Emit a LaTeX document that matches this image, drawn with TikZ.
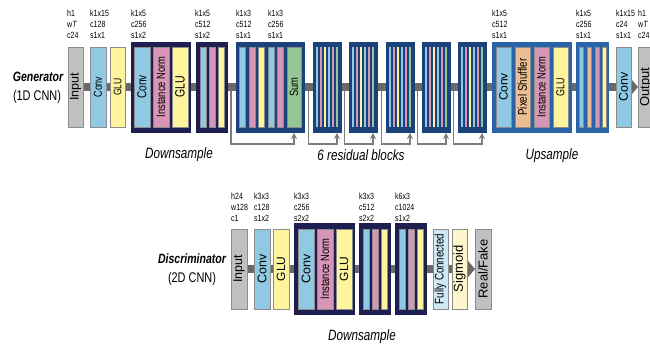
\documentclass[tikz,border=0pt]{standalone}
\usepackage{fontspec}
\setmainfont{Liberation Sans}[FakeStretch=0.78]
\usetikzlibrary{arrows.meta,backgrounds}
\definecolor{grayb}{RGB}{192,192,192}
\definecolor{conv}{RGB}{143,201,228}
\definecolor{glu}{RGB}{255,244,158}
\definecolor{inorm}{RGB}{216,150,182}
\definecolor{pix}{RGB}{236,190,146}
\definecolor{sumg}{RGB}{150,198,150}
\definecolor{fc}{RGB}{208,232,246}
\definecolor{sig}{RGB}{255,247,204}
\definecolor{navy}{RGB}{30,30,80}
\definecolor{resb}{RGB}{28,66,124}
\definecolor{upb}{RGB}{42,100,168}
\definecolor{barc}{RGB}{105,105,105}
\definecolor{skipc}{RGB}{125,125,125}
\definecolor{boxline}{RGB}{140,140,140}
\newcommand\bx[7]{\node[#1,minimum width={(#4)-(#3)},minimum height={(#6)-(#5)}] (#2) at ({((#3)+(#4))/2},{((#5)+(#6))/2}) {#7};}
\newcommand\rt[3][1]{\rotatebox{90}{\scalebox{#1}[1]{\fontsize{#2}{#2}\selectfont #3}}}
\tikzset{
 ubox/.style={draw=boxline, line width=0.7pt, inner sep=0pt, outer sep=0pt},
 blkframe/.style={inner sep=0pt, outer sep=0pt},
 thinstrip/.style={inner sep=0pt, outer sep=0pt, minimum width=2.5, minimum height=80},
 lbl/.style={anchor=south west, inner sep=0pt, align=left, font=\fontsize{9}{11}\selectfont},
 barline/.style={draw=barc, line width=8pt},
 skiparrow/.style={draw=skipc, line width=1.6pt, -{Stealth[length=6pt,width=6pt]}},
 captxt/.style={font=\fontsize{15}{18}\selectfont\itshape, inner sep=0pt},
 ttl/.style={font=\fontsize{13.5}{16}\selectfont\bfseries\itshape, inner sep=0pt},
 subttl/.style={font=\fontsize{14}{16}\selectfont, inner sep=0pt},
}
\begin{document}
\begin{tikzpicture}[x=1pt,y=-1pt]
\useasboundingbox (0,0) rectangle (650,347);
\clip (0,0) rectangle (650,347);
% ---------------- Generator ----------------
\node[ttl] (gtitle) at (38,77) {Generator};
\node[subttl] (gsub) at (37,97) {(1D CNN)};
\bx{ubox,fill=grayb}{gin}{68}{83}{47}{127}{\rt[1.28]{12.5}{Input}}
\bx{ubox,fill=conv}{gc1}{90}{106}{47}{127}{\rt{11.5}{Conv}}
\bx{ubox,fill=glu}{gg1}{110}{125}{47}{127}{\rt{11}{GLU}}
\bx{blkframe,fill=navy}{gd1}{131}{191}{42}{133}{}
\bx{ubox,fill=conv}{gd1c}{134}{150}{47}{127}{\rt{13}{Conv}}
\bx{ubox,fill=inorm}{gd1n}{153}{169}{47}{127}{\rt{12}{Instance Norm}}
\bx{ubox,fill=glu}{gd1g}{172}{188}{47}{127}{\rt{13.5}{GLU}}
\bx{blkframe,fill=navy}{gd2}{196}{228}{42}{133}{}
\bx{ubox,fill=conv}{gd2a}{200}{206}{47}{127}{}
\bx{ubox,fill=inorm}{gd2b}{209}{215}{47}{127}{}
\bx{ubox,fill=glu}{gd2c}{218}{224}{47}{127}{}
\bx{blkframe,fill=resb}{r1}{236}{305}{42}{133}{}
\bx{ubox,fill=conv}{r1a}{239}{245}{47}{127}{}
\bx{ubox,fill=inorm}{r1b}{249}{255}{47}{127}{}
\bx{ubox,fill=glu}{r1c}{258}{264}{47}{127}{}
\bx{ubox,fill=conv}{r1d}{268}{274}{47}{127}{}
\bx{ubox,fill=inorm}{r1e}{277}{283}{47}{127}{}
\bx{ubox,fill=sumg}{sum}{287}{301}{47}{127}{\rt{12}{Sum}}
\foreach \i/\x in {2/313,3/349,4/386,5/422,6/458}{
  \bx{blkframe,fill=resb}{r\i}{\x}{\x+28.5}{42}{133}{}
  \foreach \k/\col in {0/conv,1/inorm,2/glu,3/conv,4/inorm,5/sumg}{
    \node[thinstrip,fill=\col] (r\i-\k) at ({\x+4+4*\k},87) {};
  }
}
\bx{blkframe,fill=upb}{u1}{492}{572}{42}{133}{}
\bx{ubox,fill=conv}{u1c}{496}{511}{47}{127}{\rt[1.28]{12}{Conv}}
\bx{ubox,fill=pix}{u1p}{515}{530}{47}{127}{\rt{12.5}{Pixel Shuffler}}
\bx{ubox,fill=inorm}{u1n}{534}{549}{47}{127}{\rt{12}{Instance Norm}}
\bx{ubox,fill=glu}{u1g}{553}{568}{47}{127}{\rt{11.5}{GLU}}
\bx{blkframe,fill=upb}{u2}{576}{609}{42}{133}{}
\bx{ubox,fill=conv}{u2a}{579}{583}{47}{127}{}
\bx{ubox,fill=pix}{u2b}{587}{591}{47}{127}{}
\bx{ubox,fill=inorm}{u2c}{595}{599}{47}{127}{}
\bx{ubox,fill=glu}{u2d}{602}{606}{47}{127}{}
\bx{ubox,fill=conv}{gc2}{616}{631}{47}{127}{\rt[1.28]{12.5}{Conv}}
\bx{ubox,fill=grayb}{gout}{638}{654}{47}{127}{\rt[1.28]{13}{Output}}
% labels
\node[lbl] (l1) at (67,39) {h1\\w\textit{T}\\c24};
\node[lbl] (l2) at (90,39) {k1x15\\c128\\s1x1};
\node[lbl] (l3) at (131,39) {k1x5\\c256\\s1x2};
\node[lbl] (l4) at (195,39) {k1x5\\c512\\s1x2};
\node[lbl] (l5) at (236,39) {k1x3\\c512\\s1x1};
\node[lbl] (l6) at (268,39) {k1x3\\c256\\s1x1};
\node[lbl] (l7) at (492,39) {k1x5\\c512\\s1x1};
\node[lbl] (l8) at (576,39) {k1x5\\c256\\s1x1};
\node[lbl] (l9) at (616,39) {k1x15\\c24\\s1x1};
\node[lbl] (l10) at (638,39) {h1\\w\textit{T}\\c24};
\node[captxt] (cap1) at (179,155) {Downsample};
\node[captxt] (cap2) at (361,155) {6 residual blocks};
\node[captxt] (cap3) at (552,156) {Upsample};
% ---------------- Discriminator ----------------
\node[ttl] (dtitle) at (192,259) {Discriminator};
\node[subttl] (dsub) at (192,279) {(2D CNN)};
\bx{ubox,fill=grayb}{din}{231}{247}{229}{309}{\rt[1.28]{12.5}{Input}}
\bx{ubox,fill=conv}{dc1}{254}{270}{229}{309}{\rt[1.28]{12.5}{Conv}}
\bx{ubox,fill=glu}{dg1}{273}{289}{229}{309}{\rt[1.28]{12}{GLU}}
\bx{blkframe,fill=navy}{dd1}{294}{355}{223}{315}{}
\bx{ubox,fill=conv}{dd1c}{298}{314}{229}{309}{\rt[1.28]{12.5}{Conv}}
\bx{ubox,fill=inorm}{dd1n}{317}{333}{229}{309}{\rt{12}{Instance Norm}}
\bx{ubox,fill=glu}{dd1g}{336}{352}{229}{309}{\rt[1.28]{12}{GLU}}
\bx{blkframe,fill=navy}{dd2}{359}{391}{223}{315}{}
\bx{ubox,fill=conv}{dd2a}{363}{369}{229}{309}{}
\bx{ubox,fill=inorm}{dd2b}{372}{378}{229}{309}{}
\bx{ubox,fill=glu}{dd2c}{381}{387}{229}{309}{}
\bx{blkframe,fill=navy}{dd3}{395}{427}{223}{315}{}
\bx{ubox,fill=conv}{dd3a}{399}{405}{229}{309}{}
\bx{ubox,fill=inorm}{dd3b}{408}{414}{229}{309}{}
\bx{ubox,fill=glu}{dd3c}{417}{423}{229}{309}{}
\bx{ubox,fill=fc}{dfc}{433}{448}{229}{309}{\rt{12.5}{Fully Connected}}
\bx{ubox,fill=sig}{dsig}{452}{467}{229}{309}{\rt[1.28]{13}{Sigmoid}}
\bx{ubox,fill=grayb}{drf}{475}{491}{229}{309}{\rt[1.28]{13}{Real/Fake}}
\node[lbl] (m1) at (231,221.5) {h24\\w128\\c1};
\node[lbl] (m2) at (254,221.5) {k3x3\\c128\\s1x2};
\node[lbl] (m3) at (294,221.5) {k3x3\\c256\\s2x2};
\node[lbl] (m4) at (359,221.5) {k3x3\\c512\\s2x2};
\node[lbl] (m5) at (395,221.5) {k6x3\\c1024\\s1x2};
\node[captxt] (cap4) at (362,337) {Downsample};
% ---------------- connectors ----------------
\begin{pgfonlayer}{background}
\coordinate (re1) at (sum.center |- r1.south);
\draw[skiparrow] ([xshift=-5pt]r1.west) |- ([yshift=-11pt]re1) -- (re1);
\foreach \i in {2,...,6}{
  \coordinate (re\i) at (r\i-5.center |- r\i.south);
  \draw[skiparrow] ([xshift=-4.5pt]r\i.west) |- ([yshift=-11pt]re\i) -- (re\i);
}
\draw[barline,-{Triangle[length=7pt,width=16pt]}] (gin.east) -- (gout.west);
\draw[barline,-{Triangle[length=7pt,width=16pt]}] (din.east) -- (drf.west);
\end{pgfonlayer}
\end{tikzpicture}
\end{document}
